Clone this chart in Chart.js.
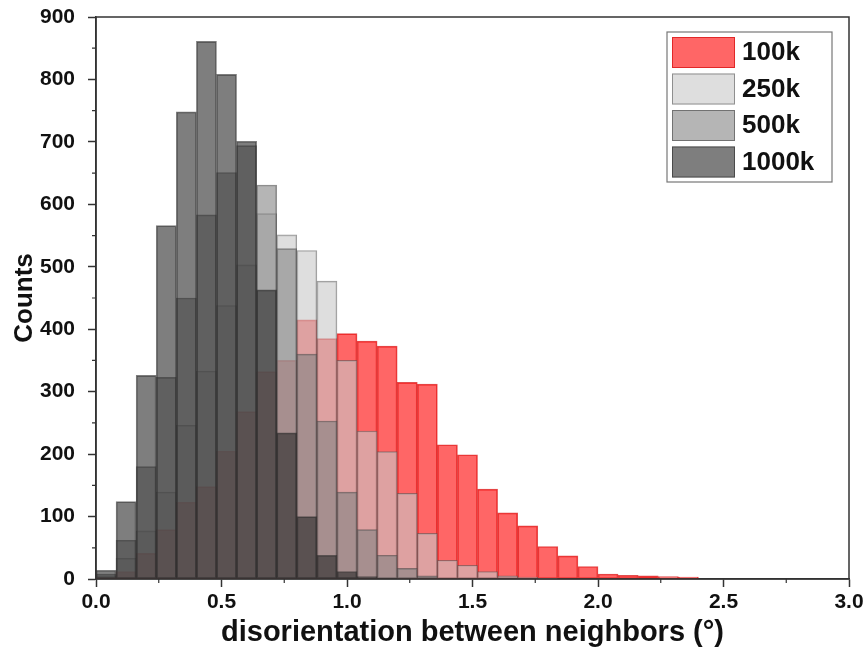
<!DOCTYPE html>
<html>
<head>
<meta charset="utf-8">
<script src="https://cdn.jsdelivr.net/npm/chart.js@4.4.1/dist/chart.umd.min.js"></script>
<style>
  html, body { margin: 0; padding: 0; background: #fff; }
  #wrap { width: 867px; height: 662px; }
</style>
</head>
<body>
<div id="wrap"><canvas id="hist" width="867" height="662"></canvas></div>
<script>
// bin centres, bin width 0.08 deg
const bins = [0.04, 0.12, 0.20, 0.28, 0.36, 0.44, 0.52, 0.60, 0.68, 0.76,
              0.84, 0.92, 1.00, 1.08, 1.16, 1.24, 1.32, 1.40, 1.48, 1.56,
              1.64, 1.72, 1.80, 1.88, 1.96, 2.04, 2.12, 2.20, 2.28, 2.36];

const counts100k  = [3, 12, 41, 79, 123, 148, 205, 268, 332, 350,
                     415, 385, 393, 381, 373, 315, 312, 215, 199, 144,
                     106, 85, 52, 37, 20, 8, 6, 5, 4, 3];
const counts250k  = [5, 33, 77, 139, 246, 333, 438, 503, 585, 551,
                     526, 477, 350, 237, 204, 137, 73, 30, 22, 12,
                     5, 3, 1, 0, 0, 0, 0, 0, 0, 0];
const counts500k  = [8, 62, 180, 323, 450, 583, 651, 694, 631, 529,
                     360, 253, 139, 79, 38, 17, 5, 0, 0, 0,
                     0, 0, 0, 0, 0, 0, 0, 0, 0, 0];
const counts1000k = [14, 124, 326, 566, 748, 861, 808, 701, 463, 234,
                     100, 38, 12, 4, 1, 0, 0, 0, 0, 0,
                     0, 0, 0, 0, 0, 0, 0, 0, 0, 0];

const xTicks = [0, 0.5, 1.0, 1.5, 2.0, 2.5, 3.0];
const xMinor = [0.25, 0.75, 1.25, 1.75, 2.25, 2.75];
const yMinor = [50, 150, 250, 350, 450, 550, 650, 750, 850];

const FONT = "'Liberation Sans', Arial, sans-serif";

function pts(arr) {
    return bins.map((b, i) => ({ x: b, y: arr[i] }));
}

// red goes underneath, the greys are laid over it
let series = [
    { label: "100k",  data: counts100k,  fill: "rgba(255,0,0,0.6)",     line: "rgba(215,20,20,0.75)", order: 4 },
    { label: "250k",  data: counts250k,  fill: "rgba(200,200,200,0.6)", line: "rgba(90,90,90,0.6)",   order: 3 },
    { label: "500k",  data: counts500k,  fill: "rgba(132,132,132,0.6)", line: "rgba(70,70,70,0.6)",   order: 2 },
    { label: "1000k", data: counts1000k, fill: "rgba(40,40,40,0.6)",    line: "rgba(40,40,40,0.6)",   order: 1 }
];

// box around the plot + minor ticks
const framePlugin = {
    id: "frame",
    afterDraw(chart) {
        let ctx = chart.ctx, a = chart.chartArea;
        let xs = chart.scales.x, ys = chart.scales.y;
        ctx.save();
        ctx.strokeStyle = "#333";
        ctx.lineWidth = 1.5;
        ctx.strokeRect(a.left, a.top, a.right - a.left, a.bottom - a.top);
        ctx.lineWidth = 1.2;
        ctx.beginPath();
        xMinor.forEach(v => {
            let px = xs.getPixelForValue(v);
            ctx.moveTo(px, a.bottom);
            ctx.lineTo(px, a.bottom + 4);
        });
        yMinor.forEach(v => {
            let py = ys.getPixelForValue(v);
            ctx.moveTo(a.left, py);
            ctx.lineTo(a.left - 4, py);
        });
        ctx.stroke();
        ctx.restore();
    }
};

// legend drawn inside the plot, top right
const legendBox = {
    id: "legendBox",
    afterDraw(chart) {
        let ctx = chart.ctx;
        let x0 = 667, y0 = 32, w = 165, h = 150;
        ctx.save();
        ctx.fillStyle = "#fff";
        ctx.fillRect(x0, y0, w, h);
        ctx.strokeStyle = "#777";
        ctx.lineWidth = 1.2;
        ctx.strokeRect(x0, y0, w, h);
        ctx.font = "bold 26px " + FONT;
        ctx.textBaseline = "middle";
        series.forEach((s, i) => {
            let sy = y0 + 5 + i * 36.5;
            ctx.fillStyle = s.fill;
            ctx.fillRect(x0 + 5, sy, 63, 31);
            ctx.strokeStyle = s.line;
            ctx.lineWidth = 1;
            ctx.strokeRect(x0 + 5.5, sy + 0.5, 62, 30);
            ctx.fillStyle = "#111";
            ctx.fillText(s.label, x0 + 75, sy + 16);
        });
        ctx.restore();
    }
};

new Chart(document.getElementById("hist"), {
    type: "bar",
    data: {
        datasets: series.map(s => ({
            label: s.label,
            data: pts(s.data),
            backgroundColor: s.fill,
            borderColor: s.line,
            borderWidth: 1,
            borderSkipped: false,
            order: s.order,
            grouped: false,
            barPercentage: 1,
            categoryPercentage: 1
        }))
    },
    options: {
        responsive: false,
        animation: false,
        devicePixelRatio: 1,
        layout: { padding: { top: 17, right: 18, left: 0, bottom: 0 } },
        plugins: {
            legend: { display: false },
            tooltip: { enabled: false }
        },
        scales: {
            x: {
                type: "linear",
                min: 0,
                max: 3,
                offset: false,
                afterFit(scale) { scale.height = 83; },
                afterBuildTicks(scale) { scale.ticks = xTicks.map(v => ({ value: v })); },
                grid: { display: true, drawOnChartArea: false, drawTicks: true, tickLength: 8, offset: false, color: "#333", tickWidth: 1.5 },
                border: { display: true, color: "#333", width: 1.5 },
                ticks: {
                    padding: 3,
                    color: "#111",
                    font: { family: FONT, size: 21, weight: "bold" },
                    callback: v => v.toFixed(1)
                },
                title: {
                    display: true,
                    text: "disorientation between neighbors (°)",
                    color: "#111",
                    font: { family: FONT, size: 29, weight: "bold", lineHeight: 1.2 },
                    padding: { top: 0, bottom: 12 }
                }
            },
            y: {
                min: 0,
                max: 900,
                afterFit(scale) {
                    scale.width = 96;
                    // labels may overhang the plot top; keep the area where it is
                    scale.paddingTop = 0;
                    scale.paddingBottom = 0;
                },
                grid: { display: true, drawOnChartArea: false, drawTicks: true, tickLength: 8, color: "#333", tickWidth: 1.5 },
                border: { display: true, color: "#333", width: 1.5 },
                ticks: {
                    stepSize: 100,
                    padding: 13,
                    color: "#111",
                    font: { family: FONT, size: 21, weight: "bold" }
                },
                title: {
                    display: true,
                    text: "Counts",
                    color: "#111",
                    font: { family: FONT, size: 26, weight: "bold", lineHeight: 1.2 },
                    padding: { top: 9, bottom: 0 }
                }
            }
        }
    },
    plugins: [framePlugin, legendBox]
});
</script>
</body>
</html>
